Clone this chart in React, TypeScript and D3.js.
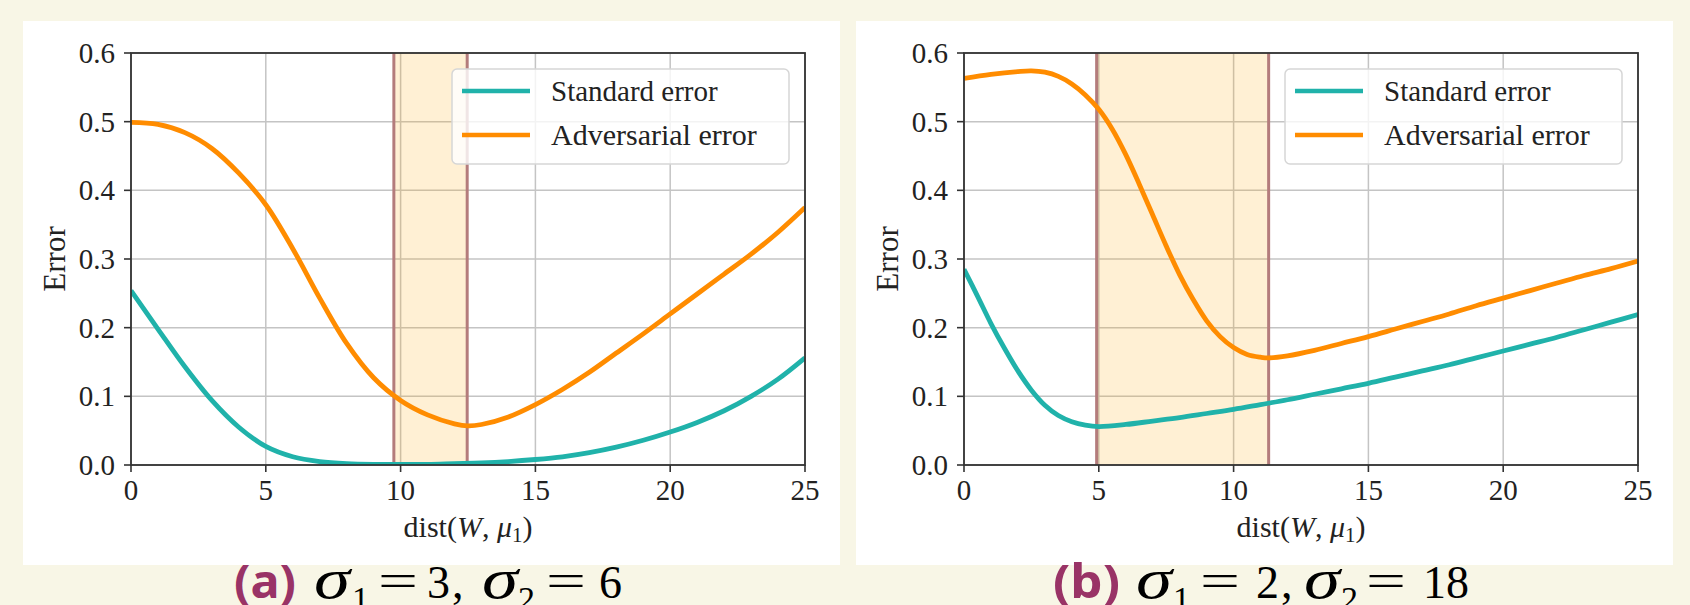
import React from "react";
import * as d3 from "d3";

// ---------- data ----------
const X_TICKS = [0, 5, 10, 15, 20, 25];
const Y_TICKS = [0, 0.1, 0.2, 0.3, 0.4, 0.5, 0.6];
const LEGEND_LABELS = ["Standard error", "Adversarial error"];

// Panel (a): sigma1 = 3, sigma2 = 6
const A_STD_X = [0, 1, 2, 3, 4, 5, 6, 7, 8, 9, 10, 11, 12, 13, 14, 15, 16, 17, 18, 19, 20, 21, 22, 23, 24, 25];
const A_STD_Y = [0.254, 0.198, 0.143, 0.094, 0.055, 0.027, 0.012, 0.005, 0.002, 0.001, 0.001, 0.001, 0.002, 0.003, 0.005, 0.008, 0.012, 0.018, 0.026, 0.036, 0.048, 0.062, 0.079, 0.1, 0.125, 0.156];
const A_ADV_X = [0, 1, 2, 3, 4, 5, 6, 7, 8, 9, 10, 11, 12, 12.5, 13, 14, 15, 16, 17, 18, 19, 20, 21, 22, 23, 24, 25];
const A_ADV_Y = [0.499, 0.496, 0.484, 0.461, 0.425, 0.379, 0.315, 0.243, 0.177, 0.127, 0.094, 0.073, 0.06, 0.057, 0.059, 0.07, 0.088, 0.11, 0.135, 0.163, 0.191, 0.22, 0.249, 0.278, 0.307, 0.339, 0.375];
const A_SPAN = [9.75, 12.47];

// Panel (b): sigma1 = 2, sigma2 = 18
const B_STD_X = [0, 0.5, 1, 1.5, 2, 2.5, 3, 3.5, 4, 4.5, 5, 6, 7, 8, 9, 10, 11, 12, 13, 14, 15, 16, 17, 18, 19, 20, 21, 22, 23, 24, 25];
const B_STD_Y = [0.285, 0.246, 0.206, 0.17, 0.137, 0.109, 0.087, 0.072, 0.063, 0.058, 0.056, 0.059, 0.064, 0.069, 0.075, 0.081, 0.088, 0.095, 0.103, 0.111, 0.119, 0.128, 0.137, 0.146, 0.156, 0.166, 0.176, 0.186, 0.197, 0.208, 0.219];
const B_ADV_X = [0, 1, 2, 2.5, 3, 3.5, 4, 4.5, 5, 5.5, 6, 6.5, 7, 7.5, 8, 8.5, 9, 9.5, 10, 10.5, 11, 11.3, 12, 13, 14, 15, 16, 17, 18, 19, 20, 21, 22, 23, 24, 25];
const B_ADV_Y = [0.563, 0.569, 0.573, 0.574, 0.572, 0.566, 0.555, 0.539, 0.518, 0.489, 0.452, 0.409, 0.364, 0.319, 0.277, 0.241, 0.21, 0.187, 0.171, 0.161, 0.157, 0.156, 0.159, 0.167, 0.177, 0.187, 0.198, 0.209, 0.22, 0.232, 0.243, 0.254, 0.265, 0.276, 0.286, 0.297];
const B_SPAN = [4.92, 11.3];

// ---------- style ----------
const BG = "#f8f6e6";
const TEAL = "#20b2aa";
const ORANGE = "#ff8c00";
const VLINE = "#b47c7c";
const SERIF = "'Liberation Serif', 'Times New Roman', serif";
const SANS = "'Noto Sans', 'Open Sans', sans-serif";
const PURPLE = "#993366";

const W = 1690;
const H = 605;
const PANEL_TOP = 21;
const PANEL_W = 817;
const PANEL_H = 544;
const AX_OFF = 108;
const AX_TOP = 53;
const AX_W = 674;
const AX_H = 412;

type Cap = { t: string; x: number; kind: "lab" | "it" | "sub" | "num" | "eq"; w?: number };

const CAP_A: Cap[] = [
  { t: "(a)", x: 211, kind: "lab", w: 62 },
  { t: "σ", x: 291, kind: "it", w: 36 },
  { t: "1", x: 329, kind: "sub" },
  { t: "=", x: 355, kind: "eq", w: 40 },
  { t: "3", x: 404, kind: "num" },
  { t: ",", x: 429, kind: "num" },
  { t: "σ", x: 459, kind: "it", w: 36 },
  { t: "2", x: 495, kind: "sub" },
  { t: "=", x: 523, kind: "eq", w: 40 },
  { t: "6", x: 576, kind: "num" },
];
const CAP_B: Cap[] = [
  { t: "(b)", x: 197, kind: "lab", w: 67 },
  { t: "σ", x: 280, kind: "it", w: 36 },
  { t: "1", x: 317, kind: "sub" },
  { t: "=", x: 344, kind: "eq", w: 40 },
  { t: "2", x: 400, kind: "num" },
  { t: ",", x: 425, kind: "num" },
  { t: "σ", x: 448, kind: "it", w: 36 },
  { t: "2", x: 485, kind: "sub" },
  { t: "=", x: 510, kind: "eq", w: 40 },
  { t: "18", x: 567, kind: "num" },
];

function Caption({ left, pieces }: { left: number; pieces: Cap[] }) {
  const base = 598;
  return (
    <g>
      {pieces.map((p, i) => {
        if (p.kind === "lab")
          return (
            <text key={i} x={left + p.x} y={base} fontFamily={SANS} fontWeight={700} fontSize={46} fill={PURPLE}
              textLength={p.w} lengthAdjust="spacingAndGlyphs">{p.t}</text>
          );
        if (p.kind === "it")
          return (
            <text key={i} x={left + p.x} y={base} fontFamily={SERIF} fontStyle="italic" fontSize={58} fill="#000"
              textLength={p.w} lengthAdjust="spacingAndGlyphs">{p.t}</text>
          );
        if (p.kind === "sub")
          return <text key={i} x={left + p.x} y={base + 12} fontFamily={SERIF} fontSize={34} fill="#000">{p.t}</text>;
        if (p.kind === "eq")
          return (
            <text key={i} x={left + p.x} y={base - 2} fontFamily={SERIF} fontSize={46} fill="#000"
              textLength={p.w} lengthAdjust="spacingAndGlyphs">{p.t}</text>
          );
        return <text key={i} x={left + p.x} y={base} fontFamily={SERIF} fontSize={46} fill="#000">{p.t}</text>;
      })}
    </g>
  );
}

function Panel({ left, stdX, stdY, advX, advY, span, caption, id }: {
  left: number; stdX: number[]; stdY: number[]; advX: number[]; advY: number[]; span: number[]; caption: Cap[]; id: string;
}) {
  const x0 = left + AX_OFF;
  const x = d3.scaleLinear().domain([0, 25]).range([x0, x0 + AX_W]);
  const y = d3.scaleLinear().domain([0, 0.6]).range([AX_TOP + AX_H, AX_TOP]);
  const line = d3.line<[number, number]>().x((d) => x(d[0])).y((d) => y(d[1])).curve(d3.curveCatmullRom.alpha(0.5));
  const std = line(stdX.map((v, i) => [v, stdY[i]] as [number, number])) || "";
  const adv = line(advX.map((v, i) => [v, advY[i]] as [number, number])) || "";
  const bottom = AX_TOP + AX_H;
  const right = x0 + AX_W;
  const lgW = 337, lgH = 95;
  const lgX = right - 16 - lgW, lgY = AX_TOP + 16;
  const cx = x0 + AX_W / 2;
  return (
    <g>
      <rect x={left} y={PANEL_TOP} width={PANEL_W} height={PANEL_H} fill="#fff" />
      <defs>
        <clipPath id={"clip" + id}>
          <rect x={x0} y={AX_TOP} width={AX_W} height={AX_H} />
        </clipPath>
      </defs>
      {X_TICKS.map((t) => (
        <line key={"gx" + t} x1={x(t)} x2={x(t)} y1={AX_TOP} y2={bottom} stroke="#c4c4c4" strokeWidth={1.5} />
      ))}
      {Y_TICKS.map((t) => (
        <line key={"gy" + t} x1={x0} x2={right} y1={y(t)} y2={y(t)} stroke="#c4c4c4" strokeWidth={1.5} />
      ))}
      <rect x={x(span[0])} y={AX_TOP} width={x(span[1]) - x(span[0])} height={AX_H} fill="#ffa500" fillOpacity={0.17} />
      {span.map((s, i) => (
        <line key={"v" + i} x1={x(s)} x2={x(s)} y1={AX_TOP} y2={bottom} stroke={VLINE} strokeWidth={3} />
      ))}
      <g clipPath={`url(#clip${id})`}>
        <path d={std} fill="none" stroke={TEAL} strokeWidth={4.8} strokeLinejoin="round" />
        <path d={adv} fill="none" stroke={ORANGE} strokeWidth={4.8} strokeLinejoin="round" />
      </g>
      <rect x={x0} y={AX_TOP} width={AX_W} height={AX_H} fill="none" stroke="#333" strokeWidth={1.8} />
      {X_TICKS.map((t) => (
        <g key={"tx" + t}>
          <line x1={x(t)} x2={x(t)} y1={bottom} y2={bottom + 7} stroke="#333" strokeWidth={1.6} />
          <text x={x(t)} y={bottom + 35} textAnchor="middle" fontFamily={SERIF} fontSize={29} fill="#222">{t}</text>
        </g>
      ))}
      {Y_TICKS.map((t) => (
        <g key={"ty" + t}>
          <line x1={x0 - 7} x2={x0} y1={y(t)} y2={y(t)} stroke="#333" strokeWidth={1.6} />
          <text x={x0 - 16} y={y(t) + 10} textAnchor="end" fontFamily={SERIF} fontSize={29} fill="#222">{t.toFixed(1)}</text>
        </g>
      ))}
      <text x={cx} y={537} textAnchor="middle" fontFamily={SERIF} fontSize={30} fill="#222">
        <tspan>dist(</tspan>
        <tspan fontStyle="italic">W</tspan>
        <tspan>, </tspan>
        <tspan fontStyle="italic">μ</tspan>
        <tspan fontSize={21} dy={5}>1</tspan>
        <tspan dy={-5}>)</tspan>
      </text>
      <text transform={`translate(${left + 42},${AX_TOP + AX_H / 2}) rotate(-90)`} textAnchor="middle" fontFamily={SERIF}
        fontSize={31} fill="#222">Error</text>
      <rect x={lgX} y={lgY} width={lgW} height={lgH} rx={5} fill="#fff" fillOpacity={0.8} stroke="#d6d6d6" strokeWidth={1.5} />
      {LEGEND_LABELS.map((lab, i) => {
        const ly = lgY + 22 + i * 44;
        return (
          <g key={lab}>
            <line x1={lgX + 10} x2={lgX + 78} y1={ly} y2={ly} stroke={i === 0 ? TEAL : ORANGE} strokeWidth={4.5} />
            <text x={lgX + 99} y={ly + 10} fontFamily={SERIF} fontSize={i === 0 ? 29 : 30} fill="#222">{lab}</text>
          </g>
        );
      })}
      <Caption left={left} pieces={caption} />
    </g>
  );
}

export default function App() {
  return (
    <svg width={W} height={H} viewBox={`0 0 ${W} ${H}`} style={{ position: "absolute", left: 0, top: 0, display: "block" }}>
      <rect x={0} y={0} width={W} height={H} fill={BG} />
      <Panel id="a" left={23} stdX={A_STD_X} stdY={A_STD_Y} advX={A_ADV_X} advY={A_ADV_Y} span={A_SPAN} caption={CAP_A} />
      <Panel id="b" left={856} stdX={B_STD_X} stdY={B_STD_Y} advX={B_ADV_X} advY={B_ADV_Y} span={B_SPAN} caption={CAP_B} />
    </svg>
  );
}
